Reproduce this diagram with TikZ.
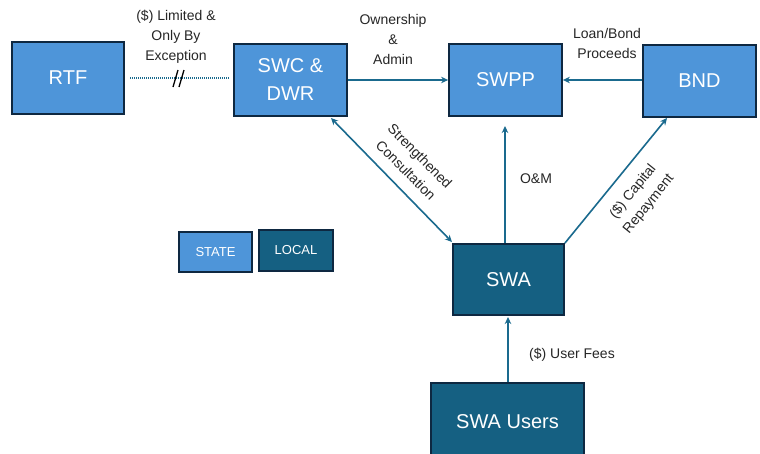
\documentclass[tikz,border=0pt]{standalone}
\usepackage{fontspec}
\setmainfont{Liberation Sans}
\usetikzlibrary{arrows.meta}
\definecolor{stateblue}{HTML}{4E95D9}
\definecolor{localteal}{HTML}{156082}
\definecolor{edgec}{HTML}{0E2841}
\definecolor{arrowc}{HTML}{1A6A8E}
\definecolor{lbltext}{HTML}{262626}
\begin{document}
\begin{tikzpicture}[x=1pt,y=-1pt,
  box/.style={draw=edgec,line width=1.8pt,minimum width=113pt,minimum height=72pt,inner sep=0pt,text=white,font=\fontsize{20}{28}\selectfont,align=center},
  statebox/.style={box,fill=stateblue},
  localbox/.style={box,fill=localteal},
  legendbox/.style={draw=edgec,line width=1.8pt,inner sep=0pt,text=white,font=\fontsize{13}{16}\selectfont,minimum height=40pt},
  lbl/.style={font=\fontsize{14}{20}\selectfont,text=lbltext,align=center,inner sep=0pt},
  arr/.style={draw=arrowc,line width=1.6pt,-{Stealth[length=7pt,width=6.5pt]}},
  dblarr/.style={draw=arrowc,line width=1.6pt,{Stealth[length=7pt,width=6.5pt]}-{Stealth[length=7pt,width=6.5pt]}}]
\clip (0,0) rectangle (760,453);
\fill[white] (0,0) rectangle (760,453);

% boxes
\node[statebox,minimum width=112pt] (RTF) at (68,78) {RTF};
\node[statebox] (SWC) at (290.5,80) {SWC \&\\DWR};
\node[statebox] (SWPP) at (505.5,80) {SWPP};
\node[statebox] (BND) at (699.5,81) {BND};
\node[localbox,minimum width=111pt,minimum height=71pt] (SWA) at (508.5,279.5) {SWA};
\node[localbox,minimum width=153pt,minimum height=78pt] (USERS) at (507.5,422) {SWA Users};

% legend
\node[legendbox,fill=stateblue,minimum width=73pt] (STATE) at (215.5,252) {STATE};
\node[legendbox,fill=localteal,minimum width=74pt,minimum height=41pt] (LOCAL) at (296,250.5) {LOCAL};

% connectors
\coordinate (dotA) at (130,78);
\coordinate (dotB) at (229,78);
\draw[arrowc,line width=1.6pt,dash pattern=on 1.1pt off 0.9pt] (dotA) -- (dotB);
\coordinate (sl1a) at (173,87);
\coordinate (sl1b) at (178,70);
\coordinate (sl2a) at (179,87);
\coordinate (sl2b) at (184,70);
\draw[black,line width=1.3pt] (sl1a) -- (sl1b);
\draw[black,line width=1.3pt] (sl2a) -- (sl2b);

\draw[arr] (SWC.east) -- (SWPP.west);
\draw[arr] (BND.west |- SWPP.east) -- (SWPP.east);

\coordinate (consA) at (331,118);
\coordinate (consB) at (452,242);
\draw[dblarr] (consA) -- (consB);

\coordinate (omB) at (505,126);
\draw[arr] (SWA.north -| omB) -- (omB);

\coordinate (capB) at (667,118);
\draw[arr] (SWA.north east) -- (capB);

\coordinate (feeB) at (508,317);
\draw[arr] (USERS.north -| feeB) -- (feeB);

% labels
\node[lbl] (lblLim) at (176,37) {(\$) Limited \&\\Only By\\Exception};
\node[lbl] (lblOwn) at (393,39) {Ownership\\\&\\Admin};
\node[lbl] (lblLoan) at (607,43) {Loan/Bond\\Proceeds};
\node[lbl,rotate=-45] (lblCons) at (413,163) {Strengthened\\Consultation};
\node[lbl] (lblOM) at (536,179) {O\&M};
\node[lbl,rotate=51] (lblCap) at (641,198) {(\$) Capital\\Repayment};
\node[lbl] (lblFee) at (572,355) {(\$) User Fees};
\end{tikzpicture}
\end{document}
